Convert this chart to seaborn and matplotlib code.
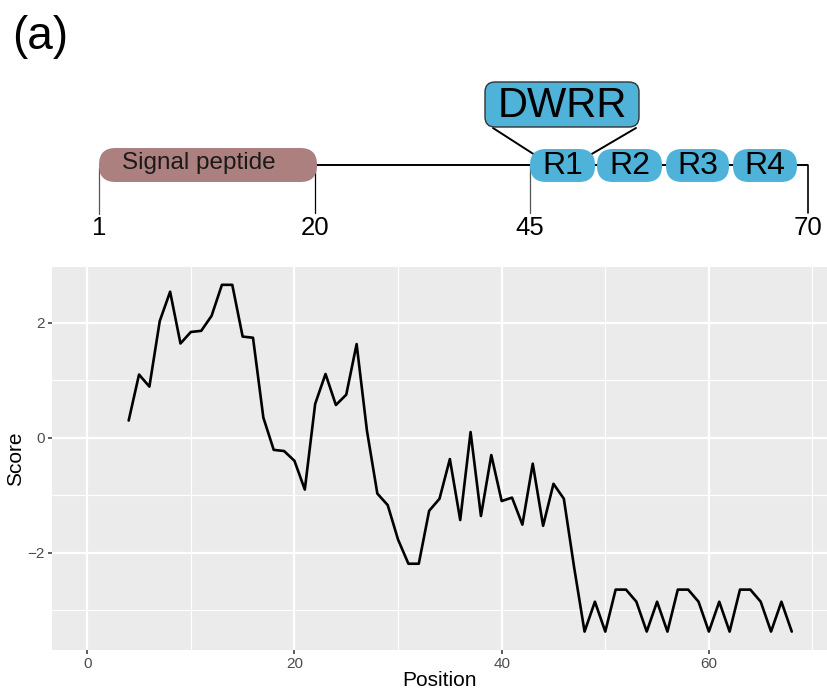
import numpy as np
import pandas as pd
import matplotlib
matplotlib.use("Agg")
import matplotlib.pyplot as plt
from matplotlib.patches import FancyBboxPatch
from matplotlib import font_manager
import seaborn as sns

# Per-residue score profile
position = [4, 5, 6, 7, 8, 9, 10, 11, 12, 13, 14, 15, 16, 17, 18, 19, 20, 21,
            22, 23, 24, 25, 26, 27, 28, 29, 30, 31, 32, 33, 34, 35, 36, 37, 38,
            39, 40, 41, 42, 43, 44, 45, 46, 47, 48, 49, 50, 51, 52, 53, 54, 55,
            56, 57, 58, 59, 60, 61, 62, 63, 64, 65, 66, 67, 68]
score = [0.30, 1.10, 0.89, 2.03, 2.54, 1.64, 1.84, 1.86, 2.12, 2.66, 2.66,
         1.76, 1.74, 0.35, -0.21, -0.23, -0.40, -0.90, 0.59, 1.11, 0.57, 0.75,
         1.63, 0.12, -0.97, -1.17, -1.77, -2.19, -2.19, -1.27, -1.06, -0.37,
         -1.43, 0.10, -1.36, -0.30, -1.10, -1.04, -1.51, -0.45, -1.53, -0.80,
         -1.06, -2.26, -3.37, -2.85, -3.37, -2.64, -2.64, -2.85, -3.37, -2.85,
         -3.37, -2.64, -2.64, -2.85, -3.37, -2.85, -3.37, -2.64, -2.64, -2.85,
         -3.37, -2.85, -3.37]

# Domain architecture
residue_marks = [1, 20, 45, 70]
signal_label = "Signal peptide"
repeat_labels = ["R1", "R2", "R3", "R4"]
motif_label = "DWRR"

x_ticks = [0, 20, 40, 60]
y_ticks = [-2, 0, 2]

sns.set_theme(style="darkgrid", rc={
    "axes.facecolor": "#EBEBEB",
    "grid.color": "white",
    "axes.edgecolor": "#EBEBEB",
})
names = {f.name for f in font_manager.fontManager.ttflist}
base_font = "Liberation Sans" if "Liberation Sans" in names else "DejaVu Sans"
narrow_font = ("Liberation Sans Narrow" if "Liberation Sans Narrow" in names
               else base_font)
plt.rcParams["font.family"] = [base_font, "DejaVu Sans"]
narrow = [narrow_font, base_font, "DejaVu Sans"]

W, H = 827, 691
fig = plt.figure(figsize=(W / 100, H / 100), dpi=100)

# ---------- schematic of the protein (drawn in pixel space) ----------
ax_d = fig.add_axes([0, 0, 1, 1])
ax_d.set_xlim(0, W)
ax_d.set_ylim(H, 0)
ax_d.axis("off")

mark_x = [99, 315, 530, 808]      # horizontal anchor of each residue mark
line_y = 165

def rbox(ax, x0, x1, y0, y1, r, color, ec="none", lw=0, z=3):
    p = FancyBboxPatch((x0 + r, y0 + r), (x1 - x0) - 2 * r, (y1 - y0) - 2 * r,
                       boxstyle=f"round,pad={r}", fc=color, ec=ec, lw=lw,
                       zorder=z)
    ax.add_patch(p)

# backbone
ax_d.plot([mark_x[1], mark_x[3]], [line_y, line_y], color="black", lw=1.4,
          zorder=1, solid_capstyle="butt")
# residue marks
ax_d.plot([mark_x[0]] * 2, [168, 214], color="#555555", lw=0.9, zorder=1)
ax_d.plot([mark_x[1]] * 2, [line_y, 213], color="black", lw=0.9, zorder=1)
ax_d.plot([mark_x[2]] * 2, [line_y, 213], color="#555555", lw=0.9, zorder=1)
ax_d.plot([mark_x[3]] * 2, [line_y, 213], color="black", lw=1.2, zorder=1)
for mx, m in zip(mark_x, residue_marks):
    ax_d.text(mx, 228, str(m), ha="center", va="center", fontsize=18.5,
              color="black", family=narrow)

# signal peptide
rbox(ax_d, 99, 317, 148, 182, 16.5, "#AD8080")
ax_d.text(199, 163, signal_label, ha="center", va="center", fontsize=17.5,
          color="#1a1a1a", zorder=5)

# repeats
rep_x = [(530, 595), (597, 662), (666, 729), (733, 797)]
for (x0, x1), lab in zip(rep_x, repeat_labels):
    rbox(ax_d, x0, x1, 149, 182, 16, "#4FB3D9")
    ax_d.text((x0 + x1) / 2, 166, lab, ha="center", va="center",
              fontsize=23, color="black", zorder=5, family=narrow)

# motif call-out
rbox(ax_d, 485, 639, 82, 127, 10, "#4FB3D9", ec="#333333", lw=1.0)
ax_d.text(562, 106, motif_label, ha="center", va="center", fontsize=30,
          color="black", zorder=5)
ax_d.plot([493, 535], [128, 155], color="black", lw=1.4, zorder=2)
ax_d.plot([636, 590], [128, 155], color="black", lw=1.4, zorder=2)

ax_d.text(12, 37, "(a)", ha="left", va="center", fontsize=33, color="black",
          family=narrow)

# ---------- score profile ----------
left, right, top, bottom = 52, W, 267, 650
ax = fig.add_axes([left / W, 1 - bottom / H, (right - left) / W,
                   (bottom - top) / H])
df = pd.DataFrame({"Position": position, "Score": score})
sns.lineplot(data=df, x="Position", y="Score", ax=ax, color="black", lw=1.9)

ax.set_xlim(-3.4, 71.4)
ax.set_ylim(-3.69, 2.97)
ax.set_xticks(x_ticks)
ax.set_yticks(y_ticks)
ax.set_yticklabels(["\u22122", "0", "2"])
ax.set_xticks([10, 30, 50, 70], minor=True)
ax.set_yticks([-3, -1, 1], minor=True)
ax.grid(which="major", color="white", lw=1.6)
ax.grid(which="minor", color="white", lw=0.8)
ax.tick_params(which="major", length=3, width=1.1, color="#333333",
               labelsize=11, labelcolor="#4D4D4D", pad=2,
               bottom=True, left=True)
ax.tick_params(which="minor", length=0)
for s in ax.spines.values():
    s.set_visible(False)
ax.set_xlabel("Position", fontsize=15, color="black", labelpad=0)
ax.set_ylabel("Score", fontsize=15, color="black", labelpad=2)

fig.savefig("out.png", dpi=100)
